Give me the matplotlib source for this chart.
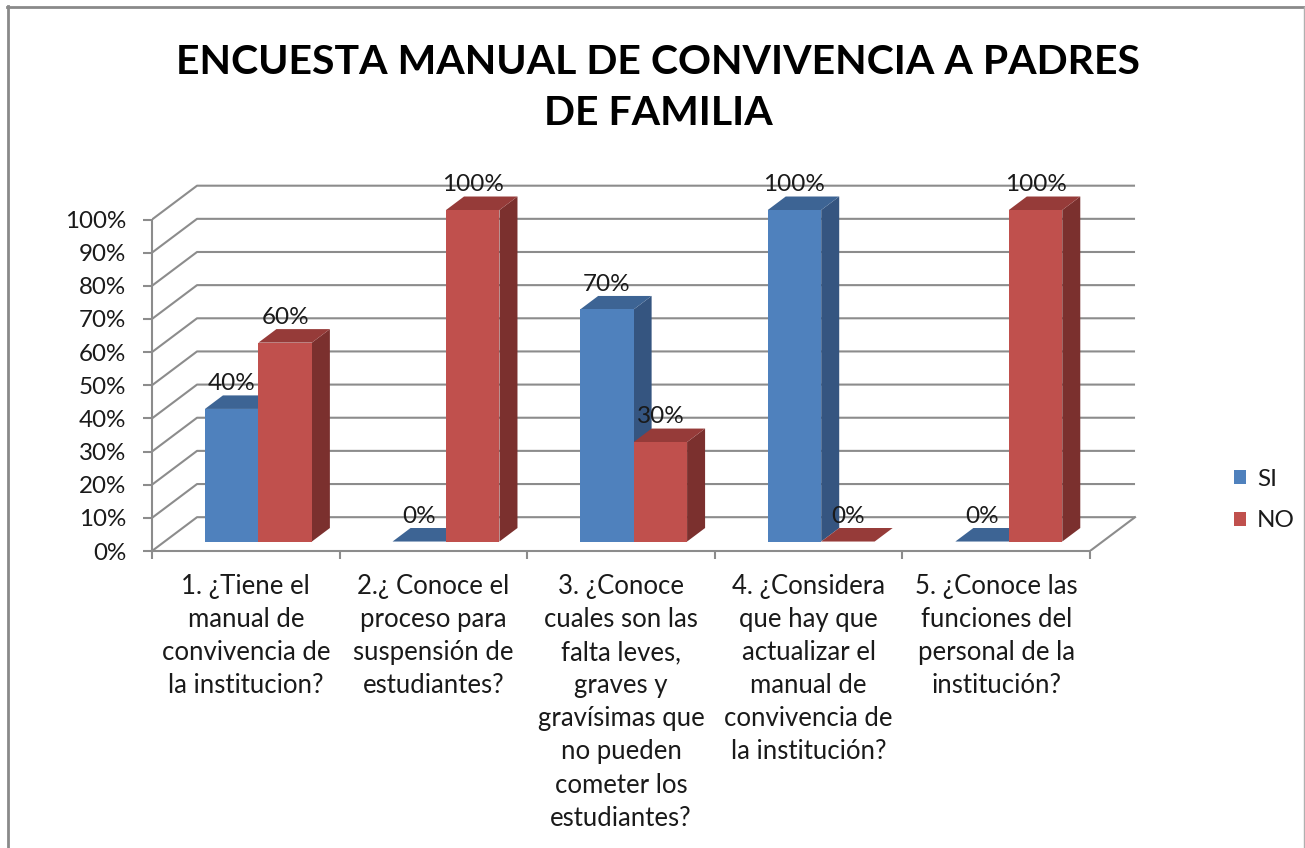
import matplotlib.pyplot as plt
from matplotlib.lines import Line2D
from matplotlib.patches import Polygon
from matplotlib.ticker import PercentFormatter

plt.rcParams['font.family'] = ['Lato', 'DejaVu Sans']

categories = [
    "1. ¿Tiene el\nmanual de\nconvivencia de\nla institucion?",
    "2.¿ Conoce el\nproceso para\nsuspensión de\nestudiantes?",
    "3. ¿Conoce\ncuales son las\nfalta leves,\ngraves y\ngravísimas que\nno pueden\ncometer los\nestudiantes?",
    "4. ¿Considera\nque hay que\nactualizar el\nmanual de\nconvivencia de\nla institución?",
    "5. ¿Conoce las\nfunciones del\npersonal de la\ninstitución?",
]
si_values = [40, 0, 70, 100, 0]
no_values = [60, 100, 30, 0, 100]
series_names = ["SI", "NO"]
title = "ENCUESTA MANUAL DE CONVIVENCIA A PADRES\nDE FAMILIA"

# face colours: front, top, side
colors = {
    "SI": ("#4F81BD", "#3D6494", "#355580"),
    "NO": ("#C0504D", "#963B39", "#7B302E"),
}
grid_color = "#8C8C8C"
text_color = "#1a1a1a"

# fake 3d depth (in data units)
DX, DY = 0.24, 10.2
Z0, Z1 = 0.28, 0.68
GAP, W = 0.215, 0.285

W_PX, H_PX = 1305, 848
fig = plt.figure(figsize=(W_PX / 100, H_PX / 100), dpi=100)
ax = fig.add_axes([152 / W_PX, (H_PX - 551) / H_PX, 1000 / W_PX, 400 / H_PX])
ax.set_xlim(0, 1000 / 187.6)
ax.set_ylim(0, 400 / 3.315)

n = len(categories)

# walls and floor gridlines
for v in range(0, 101, 10):
    ax.plot([0, DX, n + DX], [v, v + DY, v + DY], color=grid_color, lw=1.5,
            zorder=1, solid_capstyle='butt')
ax.plot([n, n + DX], [0, DY], color=grid_color, lw=1.5, zorder=1)

# bars
for s, (name, vals) in enumerate(zip(series_names, [si_values, no_values])):
    front, top, side = colors[name]
    xs = [i + GAP + s * W + Z0 * DX for i in range(n)]
    ax.bar(xs, vals, W, bottom=Z0 * DY, align='edge', color=front,
           label=name, zorder=3, linewidth=0)
    dz = (Z1 - Z0)
    for x, v in zip(xs, vals):
        yt = v + Z0 * DY
        ax.add_patch(Polygon([(x, yt), (x + W, yt), (x + W + dz * DX, yt + dz * DY),
                              (x + dz * DX, yt + dz * DY)], closed=True,
                             facecolor=top, lw=0, zorder=2.6))
        if v > 0:
            ax.add_patch(Polygon([(x + W, Z0 * DY), (x + W + dz * DX, Z1 * DY),
                                  (x + W + dz * DX, yt + dz * DY), (x + W, yt)],
                                 closed=True, facecolor=side, lw=0, zorder=2.5))
        ax.annotate(f"{v}%", (x + W / 2, v + Z1 * DY), xytext=(0, 1),
                    textcoords='offset points', ha='center', va='bottom',
                    fontsize=17.5, color=text_color, zorder=5)

# axes styling
for sp in ['top', 'right']:
    ax.spines[sp].set_visible(False)
ax.spines['left'].set_bounds(0, 100)
ax.spines['bottom'].set_bounds(0, n)
for sp in ['left', 'bottom']:
    ax.spines[sp].set_color(grid_color)
    ax.spines[sp].set_linewidth(1.5)

ax.set_yticks(range(0, 101, 10))
ax.yaxis.set_major_formatter(PercentFormatter(decimals=0))
ax.tick_params(axis='y', length=6.5, width=1.5, color=grid_color, pad=12,
               labelsize=17.4, labelcolor=text_color)

ax.set_xticks(range(n + 1))
ax.set_xticklabels([])
ax.set_xticks([i + 0.5 for i in range(n)], minor=True)
ax.set_xticklabels(categories, minor=True)
ax.tick_params(axis='x', which='major', length=6, width=1.5, color=grid_color)
ax.tick_params(axis='x', which='minor', length=0, pad=16.5, labelsize=18.5,
               labelcolor=text_color)
for lbl in ax.get_xticklabels(minor=True):
    lbl.set_linespacing(1.405)
    lbl.set_multialignment('center')

fig.legend(loc='center left', bbox_to_anchor=(1212 / W_PX, 1 - 500 / H_PX),
           frameon=False, fontsize=17.5, handlelength=0.5, handleheight=0.5,
           handletextpad=0.45, labelspacing=0.84, labelcolor=text_color)

fig.text(658 / W_PX, 1 - 88 / H_PX, title, ha='center', va='center',
         fontsize=29.5, fontweight='bold', linespacing=1.47, color='black')

# chart frame
fig.add_artist(Line2D([8 / W_PX, 8 / W_PX], [0, 1 - 6 / H_PX],
                      transform=fig.transFigure, color='#8a8a8a', lw=2))
fig.add_artist(Line2D([7 / W_PX, 1304 / W_PX], [1 - 7 / H_PX, 1 - 7 / H_PX],
                      transform=fig.transFigure, color='#8a8a8a', lw=2))
fig.add_artist(Line2D([1303.5 / W_PX, 1303.5 / W_PX], [0, 1 - 7 / H_PX],
                      transform=fig.transFigure, color='#b0b0b0', lw=1))

fig.savefig("out.png", dpi=100)
